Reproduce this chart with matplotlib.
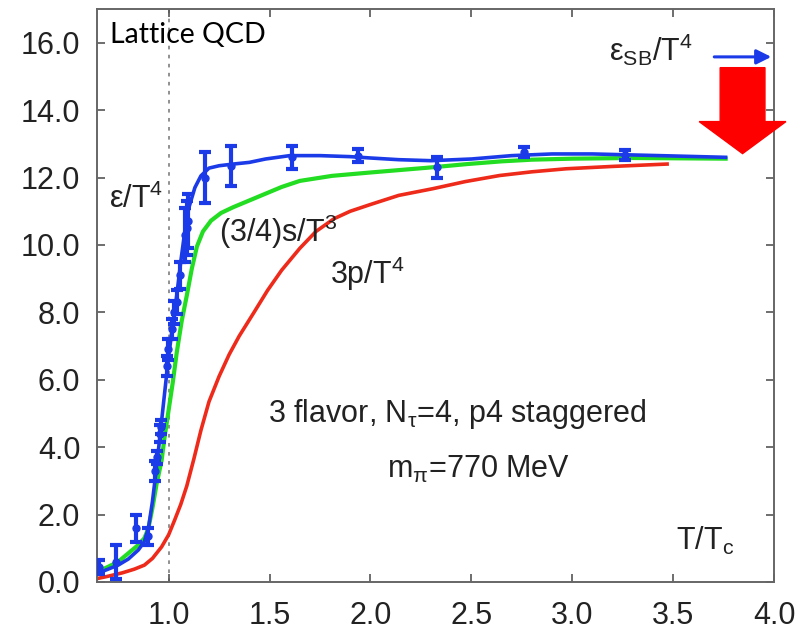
import matplotlib
matplotlib.use('Agg')
import matplotlib.pyplot as plt
from matplotlib.patches import FancyArrow

plt.rcParams['font.family'] = ['Liberation Sans', 'DejaVu Sans']
plt.rcParams['mathtext.fontset'] = 'custom'
plt.rcParams['mathtext.rm'] = 'Liberation Sans'
plt.rcParams['mathtext.default'] = 'regular'

# lattice data: energy density eps/T^4 with errors
t_pts = [0.653, 0.74, 0.837, 0.896, 0.93, 0.94, 0.955, 0.96, 0.99, 0.995, 1.015,
         1.025, 1.04, 1.055, 1.08, 1.09, 1.095, 1.18, 1.31, 1.61, 1.94, 2.33, 2.76, 3.26]
eps_pts = [0.45, 0.6, 1.6, 1.35, 3.3, 3.7, 4.4, 4.6, 6.4, 6.9, 7.5,
           8.0, 8.3, 9.1, 10.3, 10.5, 10.7, 12.0, 12.35, 12.6, 12.65, 12.3, 12.75, 12.67]
eps_err = [0.2, 0.5, 0.4, 0.25, 0.3, 0.2, 0.25, 0.2, 0.3, 0.3, 0.3,
           0.35, 0.35, 0.4, 0.8, 0.8, 0.8, 0.75, 0.6, 0.35, 0.2, 0.3, 0.15, 0.15]

# fitted curves
t_eps = [0.645, 0.7, 0.75, 0.8, 0.85, 0.88, 0.9, 0.92, 0.94, 0.96, 0.98, 1.0, 1.02, 1.04,
         1.06, 1.08, 1.1, 1.13, 1.16, 1.2, 1.25, 1.32, 1.4, 1.48, 1.6, 1.75, 1.9, 2.0,
         2.14, 2.3, 2.5, 2.7, 2.9, 3.1, 3.3, 3.5, 3.76]
eps_line = [0.25, 0.38, 0.5, 0.68, 0.95, 1.2, 1.6, 2.4, 3.4, 4.5, 5.6, 6.7, 7.6, 8.5,
            9.5, 10.4, 11.1, 11.7, 12.05, 12.28, 12.35, 12.4, 12.45, 12.55, 12.65, 12.65, 12.62, 12.58,
            12.53, 12.5, 12.55, 12.65, 12.7, 12.7, 12.67, 12.64, 12.6]

t_s = [0.645, 0.7, 0.75, 0.8, 0.85, 0.88, 0.9, 0.92, 0.94, 0.965, 0.98, 1.0, 1.02, 1.04,
       1.065, 1.09, 1.115, 1.14, 1.17, 1.21, 1.26, 1.32, 1.4, 1.48, 1.56, 1.65, 1.81,
       2.0, 2.14, 2.3, 2.48, 2.65, 2.8, 3.0, 3.3, 3.76]
s_line = [0.3, 0.45, 0.6, 0.85, 1.1, 1.3, 1.6, 2.2, 2.9, 3.6, 4.3, 5.1, 5.9, 6.8,
          7.75, 8.5, 9.3, 9.95, 10.4, 10.72, 10.95, 11.12, 11.32, 11.52, 11.72, 11.9, 12.05,
          12.15, 12.22, 12.3, 12.4, 12.48, 12.53, 12.56, 12.58, 12.56]

t_p = [0.645, 0.7, 0.77, 0.83, 0.88, 0.92, 0.965, 1.0, 1.03, 1.06, 1.09, 1.125, 1.16,
       1.2, 1.25, 1.3, 1.35, 1.42, 1.49, 1.56, 1.65, 1.73, 1.82, 1.9, 2.0, 2.14, 2.31,
       2.47, 2.64, 2.8, 2.97, 3.2, 3.47]
p_line = [0.1, 0.17, 0.27, 0.38, 0.5, 0.7, 1.04, 1.4, 1.84, 2.3, 2.85, 3.65, 4.5,
          5.35, 6.1, 6.75, 7.3, 7.97, 8.65, 9.25, 9.9, 10.4, 10.78, 11.0, 11.2, 11.47, 11.67,
          11.88, 12.06, 12.17, 12.26, 12.33, 12.4]

blue = '#1c3be8'
green = '#22dd22'
red = '#ee2a1a'

fig = plt.figure(figsize=(7.97, 6.31), dpi=100)
ax = fig.add_axes([0.1217, 0.0777, 0.8495, 0.908])

ax.axvline(1.0, color='#888888', linestyle=(0, (2, 3)), linewidth=1.3, zorder=1)

ax.plot(t_p, p_line, color=red, linewidth=2.6, zorder=2)
ax.plot(t_s, s_line, color=green, linewidth=3.0, zorder=3)
ax.plot(t_eps, eps_line, color=blue, linewidth=2.6, zorder=4)
ax.errorbar(t_pts, eps_pts, yerr=eps_err, fmt='o', color=blue, markersize=5,
            elinewidth=3, capsize=4, capthick=3, zorder=5)

ax.set_xlim(0.645, 4.0)
ax.set_ylim(0, 17)
ax.set_xticks([1.0, 1.5, 2.0, 2.5, 3.0, 3.5, 4.0])
ax.set_xticklabels(['1.0', '1.5', '2.0', '2.5', '3.0', '3.5', '4.0'])
ax.set_yticks([0, 2, 4, 6, 8, 10, 12, 14, 16])
ax.set_yticklabels(['0.0', '2.0', '4.0', '6.0', '8.0', '10.0', '12.0', '14.0', '16.0'])
ax.tick_params(axis='both', direction='in', length=6, width=1.2, color='#555555',
               labelsize=22, labelcolor='#222222', top=True, right=True)
ax.tick_params(axis='x', pad=14)
ax.tick_params(axis='y', pad=12)
for sp in ax.spines.values():
    sp.set_color('#666666')
    sp.set_linewidth(1.4)

tc = '#222222'
ax.text(0.708, 16.0, 'Lattice QCD', fontsize=20.5, family=['Lato', 'DejaVu Sans'], color='black')
ax.text(0.703, 11.1, r'ε/T$^4$', fontsize=22, color=tc)
ax.text(1.25, 10.1, r'(3/4)s/T$^3$', fontsize=22, color=tc)
ax.text(1.80, 8.85, r'3p/T$^4$', fontsize=22, color=tc)
ax.text(1.49, 4.75, r'3 flavor, N$_τ$=4, p4 staggered', fontsize=22, color=tc)
ax.text(2.08, 3.08, r'm$_π$=770 MeV', fontsize=22, color=tc)
ax.text(3.515, 0.95, r'T/T$_c$', fontsize=22, color=tc)
ax.text(3.60, 15.45, r'ε$_{SB}$/T$^4$', fontsize=22, color=tc, ha='right')

ax.annotate('', xy=(4.0, 15.58), xytext=(3.69, 15.58),
            arrowprops=dict(arrowstyle='-|>', color=blue, lw=2.2, mutation_scale=22),
            annotation_clip=False)

arrow = FancyArrow(3.844, 15.26, 0, -2.55, width=0.222, head_width=0.43, head_length=0.95,
                   length_includes_head=True, color='#ff0000', clip_on=False, zorder=6)
ax.add_patch(arrow)

fig.savefig('out.png', dpi=100)
